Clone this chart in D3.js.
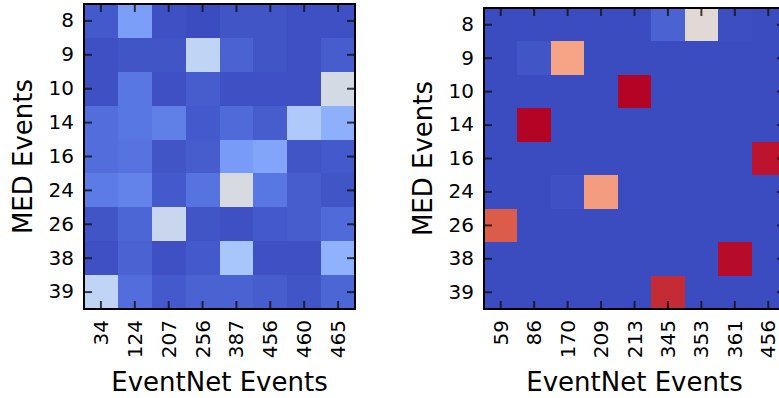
<!DOCTYPE html>
<html>
<head>
<meta charset="utf-8">
<script src="https://cdn.jsdelivr.net/npm/d3@7"></script>
<style>
  body { margin: 0; background: #fff; }
  text { font-family: "DejaVu Sans", sans-serif; fill: #000; }
</style>
</head>
<body>
<div id="chart"></div>
<script>
// rows shared by both panels
var medEvents = ["8", "9", "10", "14", "16", "24", "26", "38", "39"];

// left panel
var leftCols = ["34", "124", "207", "256", "387", "456", "460", "465"];
var leftValues = [
  [0.03, 0.20, 0.01, 0.00, 0.02, 0.02, 0.01, 0.01],
  [0.01, 0.02, 0.02, 0.40, 0.05, 0.02, 0.01, 0.04],
  [0.01, 0.10, 0.01, 0.04, 0.01, 0.01, 0.01, 0.47],
  [0.08, 0.10, 0.12, 0.03, 0.07, 0.04, 0.35, 0.25],
  [0.08, 0.09, 0.02, 0.04, 0.19, 0.22, 0.02, 0.03],
  [0.11, 0.13, 0.03, 0.09, 0.48, 0.10, 0.04, 0.02],
  [0.02, 0.06, 0.43, 0.02, 0.01, 0.03, 0.04, 0.07],
  [0.01, 0.05, 0.01, 0.03, 0.33, 0.01, 0.01, 0.26],
  [0.40, 0.08, 0.03, 0.05, 0.05, 0.04, 0.02, 0.06]
];

// right panel
var rightCols = ["59", "86", "170", "209", "213", "345", "353", "361", "456"];
var rightValues = [
  [0.00, 0.00, 0.00, 0.00, 0.00, 0.05, 0.52, 0.005, 0.00],
  [0.00, 0.02, 0.72, 0.00, 0.00, 0.00, 0.00, 0.00, 0.00],
  [0.00, 0.00, 0.00, 0.00, 1.00, 0.00, 0.00, 0.00, 0.00],
  [0.00, 1.00, 0.00, 0.00, 0.00, 0.00, 0.00, 0.00, 0.00],
  [0.00, 0.00, 0.00, 0.00, 0.00, 0.00, 0.00, 0.00, 0.98],
  [0.00, 0.00, 0.01, 0.74, 0.00, 0.00, 0.00, 0.00, 0.00],
  [0.88, 0.00, 0.00, 0.00, 0.00, 0.00, 0.00, 0.00, 0.00],
  [0.00, 0.00, 0.00, 0.00, 0.00, 0.00, 0.00, 0.99, 0.00],
  [0.00, 0.00, 0.00, 0.00, 0.00, 0.95, 0.00, 0.00, 0.00]
];

// matplotlib coolwarm, 11 stops
var coolwarm = ["#3b4cc0", "#5977e3", "#7b9ff9", "#9ebeff", "#c0d4f5", "#dddcdc",
                "#f2cbb7", "#f7ac8e", "#ee8468", "#d65244", "#b40426"];
var color = d3.scaleLinear()
  .domain(d3.range(0, 11).map(function (d) { return d / 10; }))
  .range(coolwarm)
  .interpolate(d3.interpolateRgb)
  .clamp(true);

var svg = d3.select("#chart").append("svg").attr("width", 779).attr("height", 398);

function panel(cols, values, left, top, w, h, yLabelX) {
  var g = svg.append("g");
  var x = d3.scaleBand().domain(cols).range([left, left + w]);
  var y = d3.scaleBand().domain(medEvents).range([top, top + h]);

  // cells
  values.forEach(function (row, i) {
    g.selectAll(null).data(row).enter().append("rect")
      .attr("x", function (d, j) { return x(cols[j]); })
      .attr("y", y(medEvents[i]))
      .attr("width", x.bandwidth() + 0.5)
      .attr("height", y.bandwidth() + 0.5)
      .attr("fill", function (d) { return color(d); })
      .attr("shape-rendering", "crispEdges");
  });

  // axes, ticks inside
  var bottom = g.append("g").attr("transform", "translate(0," + (top + h) + ")")
    .call(d3.axisBottom(x).tickSize(-8).tickSizeOuter(0).tickPadding(11));
  bottom.selectAll("text")
    .attr("transform", "rotate(-90)")
    .attr("x", -11).attr("y", 0).attr("dy", "0.35em")
    .style("text-anchor", "end");
  var leftAx = g.append("g").attr("transform", "translate(" + left + ",0)")
    .call(d3.axisLeft(y).tickSize(-8).tickSizeOuter(0).tickPadding(10));
  g.append("g").attr("transform", "translate(0," + top + ")")
    .call(d3.axisTop(x).tickSize(-8).tickSizeOuter(0).tickFormat(""));
  g.append("g").attr("transform", "translate(" + (left + w) + ",0)")
    .call(d3.axisRight(y).tickSize(-8).tickSizeOuter(0).tickFormat(""));

  g.selectAll(".domain").remove();
  g.selectAll(".tick line").attr("stroke", "#111").attr("stroke-width", 2).attr("stroke-opacity", 0.8);
  g.selectAll(".tick text").attr("font-size", 20).attr("font-family", "DejaVu Sans").attr("fill", "#000");

  // frame
  g.append("rect").attr("x", left).attr("y", top).attr("width", w).attr("height", h)
    .attr("fill", "none").attr("stroke", "#000").attr("stroke-width", 2);

  // axis titles
  g.append("text")
    .attr("transform", "translate(" + yLabelX + "," + (top + h / 2) + ") rotate(-90)")
    .attr("text-anchor", "middle").attr("font-size", 26).text("MED Events");
  g.append("text")
    .attr("x", left + w / 2).attr("y", 391)
    .attr("text-anchor", "middle").attr("font-size", 26).text("EventNet Events");
}

panel(leftCols, leftValues, 84, 4, 271, 305, 32);
panel(rightCols, rightValues, 484, 8, 301, 301, 432);
</script>
</body>
</html>
